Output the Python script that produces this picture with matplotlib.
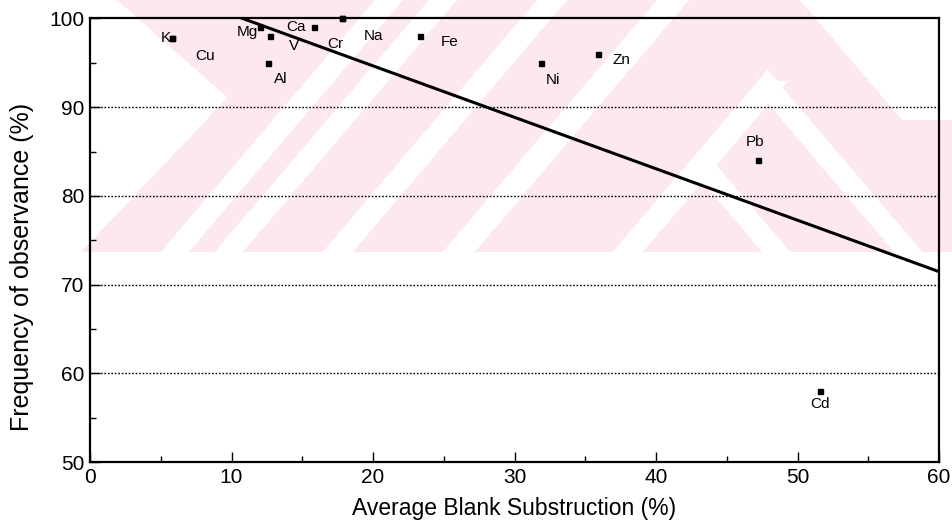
import numpy as np
import matplotlib
matplotlib.use("Agg")
import matplotlib.pyplot as plt
from matplotlib.ticker import MultipleLocator

# ---------------- data ----------------
elements = ["K", "Cu", "Mg", "V", "Al", "Ca", "Cr", "Na", "Fe", "Ni", "Zn", "Pb", "Cd"]
blank_subtraction = [5.8, 5.8, 12.0, 12.7, 12.6, 15.8, 17.8, 17.8, 23.3, 31.9, 35.9, 47.2, 51.6]
frequency = [97.8, 97.8, 99.0, 98.0, 95.0, 99.0, 100.0, 100.0, 98.0, 95.0, 96.0, 84.0, 58.0]
fit_intercept = 106.26
fit_slope = -0.580
grid_levels = [60, 70, 80, 90]
x_ticks = [0, 10, 20, 30, 40, 50, 60]
y_ticks = [50, 60, 70, 80, 90, 100]

# label placement (pixel offsets from each marker)
label_offsets = {
    "K": (-6, 0), "Cu": (33, -18), "Mg": (-12, -5), "V": (24, -10),
    "Al": (12, -16), "Ca": (-18, 0), "Cr": (-7, -26), "Na": (32, -18),
    "Fe": (30, -6), "Ni": (12, -17), "Zn": (23, -6), "Pb": (-3, 18), "Cd": (0, -13),
}

W, H = 952, 524
fig = plt.figure(figsize=(W / 100, H / 100), dpi=100)
fig.patch.set_facecolor("white")

# ---------------- faint scanned watermark (decoration) ----------------
Y, X = np.mgrid[0:H, 0:W].astype(float)
pink = (Y < 252) & (X >= 76)
white = np.zeros_like(pink)
white |= X < np.minimum(117 + 1.134 * Y, 227 - 0.948 * (Y - 97))
u = X + 0.85 * Y
for lo, hi in [(374, 402), (428, 456), (536, 566), (656, 688)]:
    white |= (u >= lo) & (u <= hi)
# right-hand chevrons
white |= (u >= 826) & (u <= 856) & (Y > 80)
v = X - 0.85 * Y
white |= (v >= 680) & (v <= 708) & (u >= 826)
white |= (v >= 548) & (v <= 576) & (u >= 826)
white |= (v >= 800) & (Y < 120)
mask = pink & ~white
img = np.ones((H, W, 4))
img[..., 3] = 0
img[mask] = [253 / 255, 233 / 255, 237 / 255, 1.0]
fig.figimage(img, 0, 0, origin="upper", zorder=-5)

# ---------------- axes ----------------
ax = fig.add_axes([90 / W, 1 - 462 / H, (939 - 90) / W, (462 - 18.5) / H])
ax.set_zorder(2)
ax.set_facecolor("none")
ax.set_xlim(0, 60)
ax.set_ylim(50, 100)

for g in grid_levels:
    ax.axhline(g, color="black", lw=1.0, linestyle=(0, (1.2, 1.3)), zorder=1)

xs = np.array([0.0, 60.0])
ax.plot(xs, fit_intercept + fit_slope * xs, color="black", lw=2.2, zorder=3)

ax.plot(blank_subtraction, frequency, linestyle="none", marker="s", ms=3.6,
        color="black", zorder=4, clip_on=False)

for name, bx, fy in zip(elements, blank_subtraction, frequency):
    dx, dy = label_offsets[name]
    ax.annotate(name, (bx, fy), xytext=(dx, dy), textcoords="offset pixels",
                ha="center", va="center", fontsize=11, fontfamily="Liberation Sans",
                annotation_clip=False, zorder=5)

ax.set_xticks(x_ticks)
ax.set_yticks(y_ticks)
ax.xaxis.set_minor_locator(MultipleLocator(5))
ax.yaxis.set_minor_locator(MultipleLocator(5))
ax.tick_params(which="both", direction="in", top=False, right=False,
               labelsize=15, width=1)
ax.tick_params(which="major", length=7, pad=4)
ax.tick_params(which="minor", length=4)
for lab in ax.get_xticklabels() + ax.get_yticklabels():
    lab.set_fontfamily("Liberation Sans")
for sp in ax.spines.values():
    sp.set_linewidth(1.6)

ax.set_xlabel("Average Blank Substruction (%)", fontsize=16.5, fontfamily="Liberation Sans")
ax.set_ylabel("Frequency of observance (%)", fontsize=18, fontfamily="Liberation Sans")
ax.xaxis.set_label_coords(0.5, -0.08)
ax.yaxis.set_label_coords(-0.066, 0.44)

fig.savefig("out.png", dpi=100)
